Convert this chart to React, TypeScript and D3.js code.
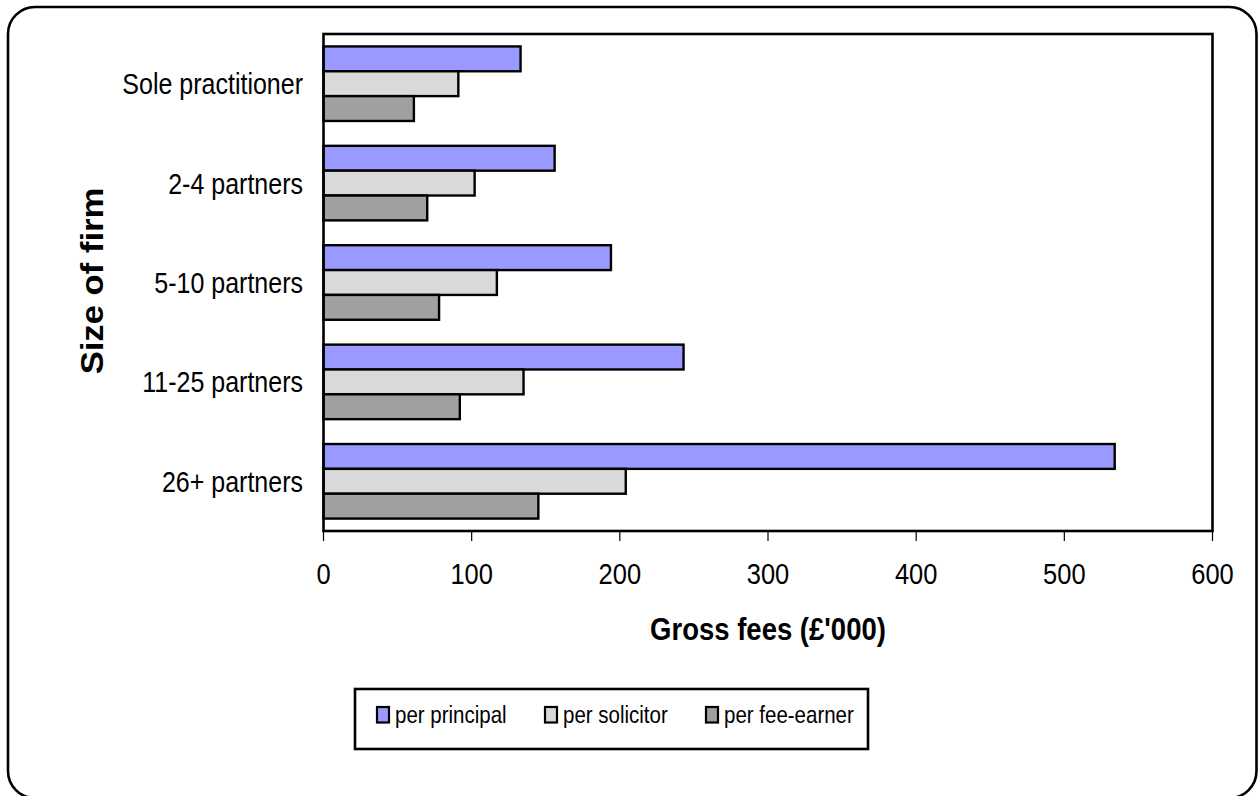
import React from "react";
import * as d3 from "d3";

// Firm sizes, top to bottom
const categories = ["Sole practitioner", "2-4 partners", "5-10 partners", "11-25 partners", "26+ partners"];
// Gross fees in £'000
const perPrincipal = [133, 156, 194, 243, 534];
const perSolicitor = [91, 102, 117, 135, 204];
const perFeeEarner = [61, 70, 78, 92, 145];
const seriesNames = ["per principal", "per solicitor", "per fee-earner"];
const seriesColors = ["#9999FF", "#D9D9D9", "#A0A0A0"];
const xTicks = [0, 100, 200, 300, 400, 500, 600];

const W = 1258;
const H = 796;
const FONT = "'Liberation Sans', Arial, Helvetica, sans-serif";

const plot = { left: 323.5, right: 1212.5, top: 34, bottom: 531 };

export default function App() {
  const series = [perPrincipal, perSolicitor, perFeeEarner];

  const x = d3.scaleLinear().domain([0, 600]).range([plot.left, plot.right]);
  const y = d3
    .scaleBand<string>()
    .domain(categories)
    .range([plot.top, plot.bottom])
    .paddingInner(0.25)
    .paddingOuter(0.125);
  const ySub = d3.scaleBand<number>().domain([0, 1, 2]).range([0, y.bandwidth()]);

  const legendItems = [
    { swatch: 377, text: 395 },
    { swatch: 545, text: 563 },
    { swatch: 706, text: 724 },
  ];

  return (
    <svg
      width={W}
      height={H}
      style={{ position: "absolute", left: 0, top: 0, display: "block", background: "#fff" }}
      fontFamily={FONT}
    >
      {/* outer chart frame */}
      <rect x={8} y={7} width={1248.5} height={791} rx={27} ry={27} fill="#fff" stroke="#000" strokeWidth={2.6} />

      {/* bars */}
      {categories.map((c, i) =>
        series.map((vals, s) => (
          <rect
            key={`${c}-${s}`}
            x={x(0)}
            y={(y(c) as number) + (ySub(s) as number)}
            width={x(vals[i]) - x(0)}
            height={ySub.bandwidth()}
            fill={seriesColors[s]}
            stroke="#000"
            strokeWidth={2.4}
          />
        ))
      )}

      {/* plot frame */}
      <rect
        x={plot.left}
        y={plot.top}
        width={plot.right - plot.left}
        height={plot.bottom - plot.top}
        fill="none"
        stroke="#000"
        strokeWidth={2.6}
      />

      {/* x ticks and labels */}
      {xTicks.map((t) => (
        <g key={t}>
          <line x1={x(t)} x2={x(t)} y1={plot.bottom} y2={plot.bottom + 10} stroke="#000" strokeWidth={1.2} />
          <text
            transform={`translate(${x(t)},584) scale(1,1.15)`}
            textAnchor="middle"
            fontSize={25.5}
            fill="#000"
          >
            {t}
          </text>
        </g>
      ))}

      {/* category labels */}
      {categories.map((c) => (
        <text
          key={c}
          transform={`translate(303,${(y(c) as number) + y.bandwidth() / 2 + 10.5}) scale(1,1.15)`}
          textAnchor="end"
          fontSize={25}
          fill="#000"
        >
          {c}
        </text>
      ))}

      {/* axis titles */}
      <text
        transform={`translate(${(plot.left + plot.right) / 2},640) scale(1,1.15)`}
        textAnchor="middle"
        fontSize={27.5}
        fontWeight="bold"
        fill="#000"
      >
        Gross fees (£'000)
      </text>
      <text
        transform={`translate(103,281) scale(1,1.1) rotate(-90)`}
        textAnchor="middle"
        fontSize={31.5}
        fontWeight="bold"
        fill="#000"
      >
        Size of firm
      </text>

      {/* legend */}
      <rect x={355} y={689} width={513} height={60} fill="#fff" stroke="#000" strokeWidth={2.6} />
      {seriesNames.map((name, s) => (
        <g key={name}>
          <rect
            x={legendItems[s].swatch}
            y={707}
            width={12}
            height={15.5}
            fill={seriesColors[s]}
            stroke="#000"
            strokeWidth={2.2}
          />
          <text
            transform={`translate(${legendItems[s].text},723) scale(1,1.2)`}
            fontSize={20.5}
            fill="#000"
          >
            {name}
          </text>
        </g>
      ))}
    </svg>
  );
}
